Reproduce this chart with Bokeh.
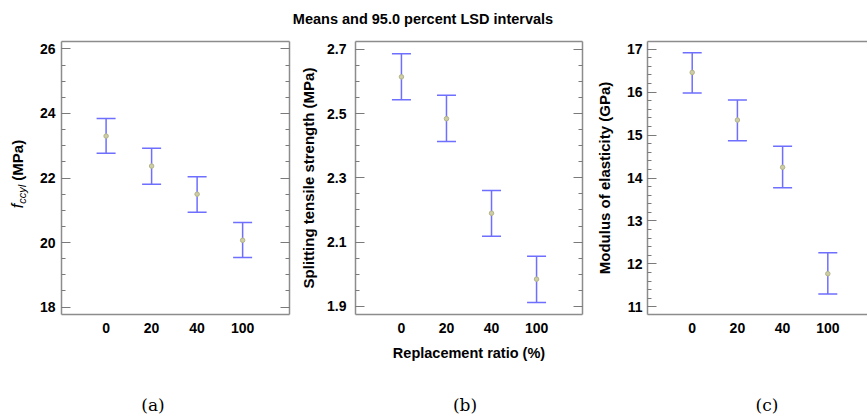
import numpy as np
from bokeh.plotting import figure
from bokeh.layouts import row, column
from bokeh.models import Div, FixedTicker, Range1d, LinearAxis, ColumnDataSource
from bokeh.embed import file_html
from bokeh.resources import INLINE

# ---------------- data ----------------
categories = ["0", "20", "40", "100"]

fccyl_mean = [23.30, 22.37, 21.50, 20.07]
fccyl_low = [22.77, 21.81, 20.94, 19.54]
fccyl_high = [23.84, 22.92, 22.04, 20.62]

split_mean = [2.614, 2.484, 2.190, 1.985]
split_low = [2.543, 2.413, 2.118, 1.912]
split_high = [2.686, 2.557, 2.261, 2.056]

modulus_mean = [16.46, 15.35, 14.25, 11.77]
modulus_low = [15.98, 14.87, 13.77, 11.30]
modulus_high = [16.92, 15.82, 14.74, 12.26]

fccyl_ticks = [18, 20, 22, 24, 26]
split_ticks = [1.9, 2.1, 2.3, 2.5, 2.7]
modulus_ticks = [11, 12, 13, 14, 15, 16, 17]

title_text = "Means and 95.0 percent LSD intervals"
xlabel_text = "Replacement ratio (%)"
split_label = "Splitting tensile strength (MPa)"
modulus_label = "Modulus of elasticity (GPa)"
captions = ["(a)", "(b)", "(c)"]

# ---------------- style ----------------
FONT = "Liberation Sans"
FRAME = "#8c8c8c"
TICK = "#7a7a7a"
BAR = "#6e6eff"
MEAN_FILL = "#cdcda6"
MEAN_LINE = "#b4b48a"
TICK_FS = "14px"
LABEL_FS = "15px"
TOP_OFF = 30      # title strip height
CAP_H = 28        # caption strip height
FIG_H = 418 - TOP_OFF - CAP_H
LABEL_W = 30      # strip holding the y label of panel (a)

xs = [i + 1 for i in range(len(categories))]


def make_panel(mean, low, high, ylim, majors, minor_step, xlim, width,
               borders, label_standoff, right_axis=True):
    left, right, top, bottom = borders
    p = figure(width=width, height=FIG_H, output_backend="svg", toolbar_location=None,
               x_range=Range1d(*xlim), y_range=Range1d(*ylim),
               min_border_left=left, min_border_right=right,
               min_border_top=top, min_border_bottom=bottom,
               outline_line_color=None, background_fill_color="white",
               border_fill_color="white")
    p.xgrid.visible = False
    p.ygrid.visible = False

    minors = list(np.round(np.arange(ylim[0] - ylim[0] % minor_step, ylim[1] + minor_step, minor_step), 4))
    yt = FixedTicker(ticks=majors, minor_ticks=minors)
    xt = FixedTicker(ticks=xs)

    ya = p.yaxis[0]
    ya.ticker = yt
    ya.major_tick_in = 9
    ya.major_tick_out = 0
    ya.minor_tick_in = 4
    ya.minor_tick_out = 0
    ya.major_tick_line_color = TICK
    ya.minor_tick_line_color = TICK
    ya.axis_line_color = FRAME
    ya.axis_line_width = 1.5
    ya.major_label_text_font = FONT
    ya.major_label_text_font_style = "bold"
    ya.major_label_text_font_size = TICK_FS
    ya.major_label_text_color = "black"
    ya.major_label_standoff = label_standoff
    ya.axis_label_text_font = FONT
    ya.axis_label_text_font_style = "bold"
    ya.axis_label_text_font_size = LABEL_FS
    ya.axis_label_text_color = "black"

    xa = p.xaxis[0]
    xa.ticker = xt
    xa.major_label_overrides = {x: c for x, c in zip(xs, categories)}
    xa.major_tick_in = 0
    xa.major_tick_out = 0
    xa.minor_tick_in = 0
    xa.minor_tick_out = 0
    xa.axis_line_color = FRAME
    xa.axis_line_width = 1.5
    xa.major_label_text_font = FONT
    xa.major_label_text_font_style = "bold"
    xa.major_label_text_font_size = TICK_FS
    xa.major_label_text_color = "black"
    xa.major_label_standoff = 8
    xa.axis_label_text_font = FONT
    xa.axis_label_text_font_style = "bold"
    xa.axis_label_text_font_size = "14.5px"
    xa.axis_label_text_color = "black"
    xa.axis_label_standoff = 9

    top_axis = LinearAxis(ticker=xt, major_label_overrides={x: "" for x in xs},
                          major_label_text_font_size="1px",
                          major_tick_in=0, major_tick_out=0, minor_tick_in=0, minor_tick_out=0,
                          major_label_standoff=0, axis_line_color=FRAME, axis_line_width=1.5)
    p.add_layout(top_axis, "above")
    if right_axis:
        ra = LinearAxis(ticker=yt, major_label_overrides={t: "" for t in majors},
                        major_label_text_font_size="1px",
                        major_tick_in=9, major_tick_out=0, minor_tick_in=4, minor_tick_out=0,
                        major_label_standoff=0, axis_line_color=FRAME, axis_line_width=1.5,
                        major_tick_line_color=TICK, minor_tick_line_color=TICK)
        p.add_layout(ra, "right")

    src = ColumnDataSource(dict(x=xs, mean=mean, low=low, high=high))
    p.segment(x0="x", y0="low", x1="x", y1="high", source=src, line_color=BAR, line_width=1.5)
    p.scatter(x="x", y="high", source=src, marker="dash", size=19, line_color=BAR, line_width=1.5)
    p.scatter(x="x", y="low", source=src, marker="dash", size=19, line_color=BAR, line_width=1.5)
    p.scatter(x="x", y="mean", source=src, marker="circle", size=4.5,
              fill_color=MEAN_FILL, line_color=MEAN_LINE, line_width=1)
    return p


PLOT_BOTTOM = TOP_OFF + FIG_H

# panel (a): frame page x 61..289, y 38..315
pa = make_panel(fccyl_mean, fccyl_low, fccyl_high, (17.77, 26.23), fccyl_ticks, 0.5,
                (0.02, 5.03), 295 - LABEL_W, (61 - LABEL_W, 6, 38 - TOP_OFF, PLOT_BOTTOM - 315), 6)
# panel (b): frame page x 355..582, y 39..316
pb = make_panel(split_mean, split_low, split_high, (1.875, 2.724), split_ticks, 0.05,
                (-0.02, 5.02), 295, (60, 8, 39 - TOP_OFF, PLOT_BOTTOM - 316), 9)
pb.left[0].axis_label = split_label
pb.left[0].axis_label_standoff = 7
pb.below[0].axis_label = xlabel_text
# panel (c): frame page x 647..867, y 41..314
pc = make_panel(modulus_mean, modulus_low, modulus_high, (10.82, 17.18), modulus_ticks, 0.2,
                (0.011, 4.878), 277, (57, 0, 41 - TOP_OFF, PLOT_BOTTOM - 314), 5, right_axis=False)
pc.left[0].axis_label = modulus_label
pc.left[0].axis_label_standoff = 11

SANS = "font-family:'Liberation Sans',Arial,sans-serif;color:black;"

title = Div(text=f'<div style="width:846px;text-align:center;{SANS}'
                 f'font-weight:bold;font-size:14.5px;line-height:38px;white-space:nowrap;">{title_text}</div>',
            width=867, height=TOP_OFF, margin=(0, 0, 0, 0))

# y label of panel (a): f_ccyl (MPa), rotated
ylab_a = Div(text=(f'<div style="position:relative;width:{LABEL_W}px;height:{FIG_H}px;">'
                   f'<div style="position:absolute;left:18px;top:{174 - TOP_OFF}px;'
                   f'transform:translate(-50%,-50%) rotate(-90deg);white-space:nowrap;{SANS}font-size:15px;line-height:18px;">'
                   f'<span style="font-style:italic;font-size:16px;">f</span>'
                   f'<span style="font-style:italic;font-size:11px;position:relative;top:3px;">ccyl</span>'
                   f'<span style="font-weight:bold;"> (MPa)</span></div></div>'),
             width=LABEL_W, height=FIG_H, margin=(0, 0, 0, 0))

cap_centers = [153, 465, 767]
cap_html = "".join(
    f'<div style="position:absolute;left:{cx - 40}px;width:80px;top:0;text-align:center;'
    f'font-family:\'DejaVu Serif\',serif;font-size:17px;line-height:{2 * (405 - PLOT_BOTTOM)}px;color:black;">{c}</div>'
    for c, cx in zip(captions, cap_centers))
caption_div = Div(text=f'<div style="position:relative;width:867px;height:{CAP_H}px;">{cap_html}</div>',
                  width=867, height=CAP_H, margin=(0, 0, 0, 0))

layout = column(title, row(ylab_a, pa, pb, pc, spacing=0), caption_div, spacing=0)

open("out.html", "w").write(file_html(layout, INLINE))
